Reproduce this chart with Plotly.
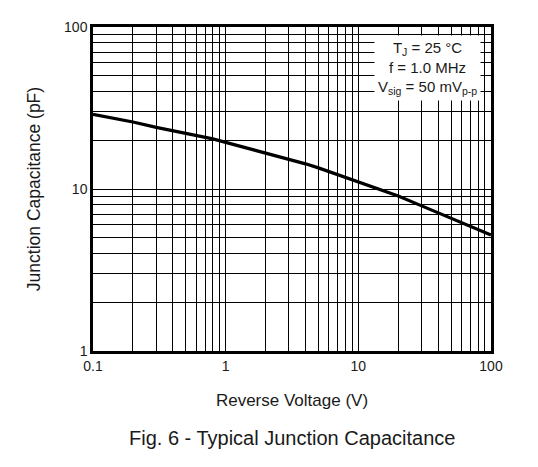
import plotly.graph_objects as go

# Typical junction capacitance vs reverse voltage
voltage = [0.1, 0.2, 0.3, 0.5, 0.8, 1, 2, 3, 4, 5, 10, 20, 30, 50, 100]
capacitance = [28.9, 25.9, 24.0, 22.1, 20.4, 19.4, 16.7, 15.3, 14.3, 13.5, 11.1, 9.06, 7.87, 6.61, 5.2]

x_grid = [m * d for d in [0.1, 1, 10] for m in range(1, 10)] + [100]
y_grid = [m * d for d in [1, 10] for m in range(1, 10)] + [100]
x_labels = {0.1: "0.1", 1: "1", 10: "10", 100: "100"}
y_labels = {1: "1", 10: "10", 100: "100"}

FONT = "Liberation Sans, Arial, sans-serif"
TXT = "#1a1a1a"

fig = go.Figure()
fig.add_trace(go.Scatter(x=voltage, y=capacitance, mode="lines",
                         line=dict(color="black", width=3.2),
                         showlegend=False, hoverinfo="skip"))

axis_common = dict(showgrid=True, gridcolor="black", gridwidth=1,
                   showline=True, linecolor="black", linewidth=2.5, mirror=True,
                   ticks="", tickfont=dict(family=FONT, size=14, color=TXT),
                   zeroline=False)

fig.update_xaxes(type="log", range=[-1, 2],
                 tickvals=x_grid,
                 ticktext=[x_labels.get(round(v, 6), "") for v in x_grid],
                 title=dict(text="Reverse Voltage (V)", standoff=22,
                            font=dict(family=FONT, size=17, color=TXT)),
                 **axis_common)
fig.update_yaxes(type="log", range=[0, 2],
                 tickvals=y_grid,
                 ticktext=[y_labels.get(round(v, 6), "") for v in y_grid],
                 title=dict(text="Junction Capacitance (pF)", standoff=19,
                            font=dict(family=FONT, size=17.5, color=TXT)),
                 **axis_common)

# conditions box
fig.add_annotation(xref="paper", yref="paper", x=0.84, y=0.975,
                   xanchor="center", yanchor="top", align="center",
                   text="T<sub>J</sub> = 25 °C<br>f = 1.0 MHz<br>V<sub>sig</sub> = 50 mV<sub>p-p</sub>",
                   showarrow=False, bgcolor="white", borderpad=3,
                   font=dict(family=FONT, size=15, color=TXT))

# figure caption
fig.add_annotation(xref="paper", yref="paper", x=0.5, y=-0.27,
                   xanchor="center", yanchor="middle",
                   text="Fig. 6 - Typical Junction Capacitance", showarrow=False,
                   font=dict(family=FONT, size=20, color=TXT))

# page body adds an 8px offset, so the figure is a bit smaller than the window
fig.update_layout(width=530, height=459,
                  margin=dict(l=85, r=47, t=19, b=116),
                  plot_bgcolor="white", paper_bgcolor="white")

fig.write_html("out.html")
